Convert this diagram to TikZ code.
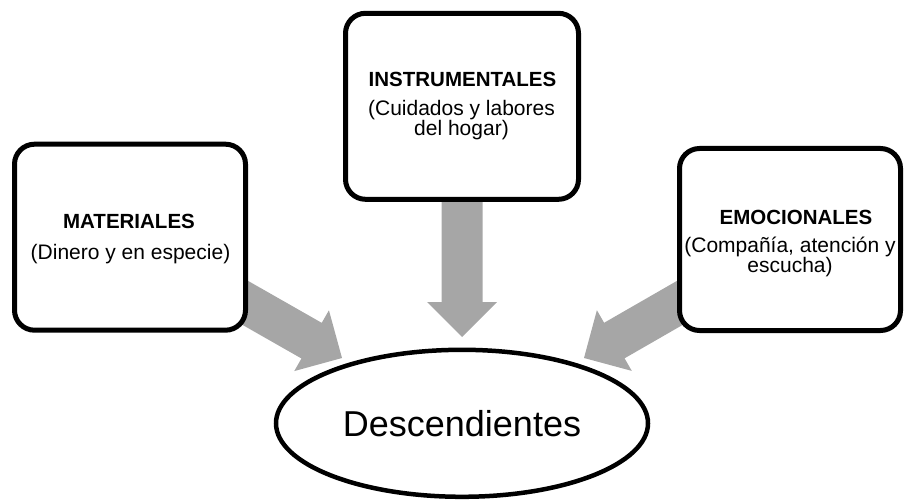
\documentclass[tikz,border=0pt]{standalone}
\usepackage{fontspec}
\setmainfont{Liberation Sans}
\usetikzlibrary{calc,shapes.geometric,backgrounds}
\definecolor{arrowgray}{RGB}{166,166,166}
% block arrow from a tail node (#1) to a tip coordinate (#2)
\newcommand{\blockarrow}[2]{%
  \coordinate (#2h) at ($(#2)!35pt!(#1)$);
  \fill[garrow] (#2)
    -- ($(#2h)!35pt!90:(#2)$) -- ($(#2h)!20.5pt!90:(#2)$)
    -- ($(#1)!20.5pt!90:(#2)$) -- ($(#1)!20.5pt!-90:(#2)$)
    -- ($(#2h)!20.5pt!-90:(#2)$) -- ($(#2h)!35pt!-90:(#2)$) -- cycle;}
\begin{document}
\begin{tikzpicture}[x=1pt,y=1pt,
  box/.style={draw=black, line width=5pt, fill=white, rounded corners=20pt, inner sep=0pt},
  oval/.style={ellipse, draw=black, line width=4.5pt, fill=white, inner sep=0pt,
    font=\fontsize{36}{40}\selectfont},
  head/.style={anchor=base, inner sep=0pt, font=\bfseries\fontsize{20.5}{24}\selectfont},
  body/.style={anchor=base, inner sep=0pt, font=\fontsize{21}{25}\selectfont},
  garrow/.style={fill=arrowgray, draw=none}
]
\useasboundingbox (0,0) rectangle (904,501);

% target
\node[oval, minimum width=372pt, minimum height=147pt] (desc) at (462,77.7) {Descendientes};

% source boxes
\node[box, minimum width=231pt, minimum height=186pt] (mat) at (130,263.8) {};
\node[box, minimum width=233pt, minimum height=186pt] (ins) at (462,394.7) {};
\node[box, minimum width=221pt, minimum height=182pt] (emo) at (790,261.5) {};

% texts
\node[head] (matH) at (129,272.7) {MATERIALES};
\node[body] (matB) at (130.5,241.5) {(Dinero y en especie)};
\node[head] (insH) at (462.5,414.3) {INSTRUMENTALES};
\node[body] (insB1) at (461.5,385.5) {(Cuidados y labores};
\node[body] (insB2) at (461.5,365.5) {del hogar)};
\node[head] (emoH) at (796,276) {EMOCIONALES};
\node[body] (emoB1) at (790,248.3) {(Compañía, atención y};
\node[body] (emoB2) at (790,228) {escucha)};

% arrow tips
\coordinate (tipL) at (342,143);
\coordinate (tipM) at (462,164);
\coordinate (tipR) at (584,143);

\begin{scope}[on background layer]
  \blockarrow{mat.center}{tipL}
  \blockarrow{ins.center}{tipM}
  \blockarrow{emo.center}{tipR}
\end{scope}
\end{tikzpicture}
\end{document}
